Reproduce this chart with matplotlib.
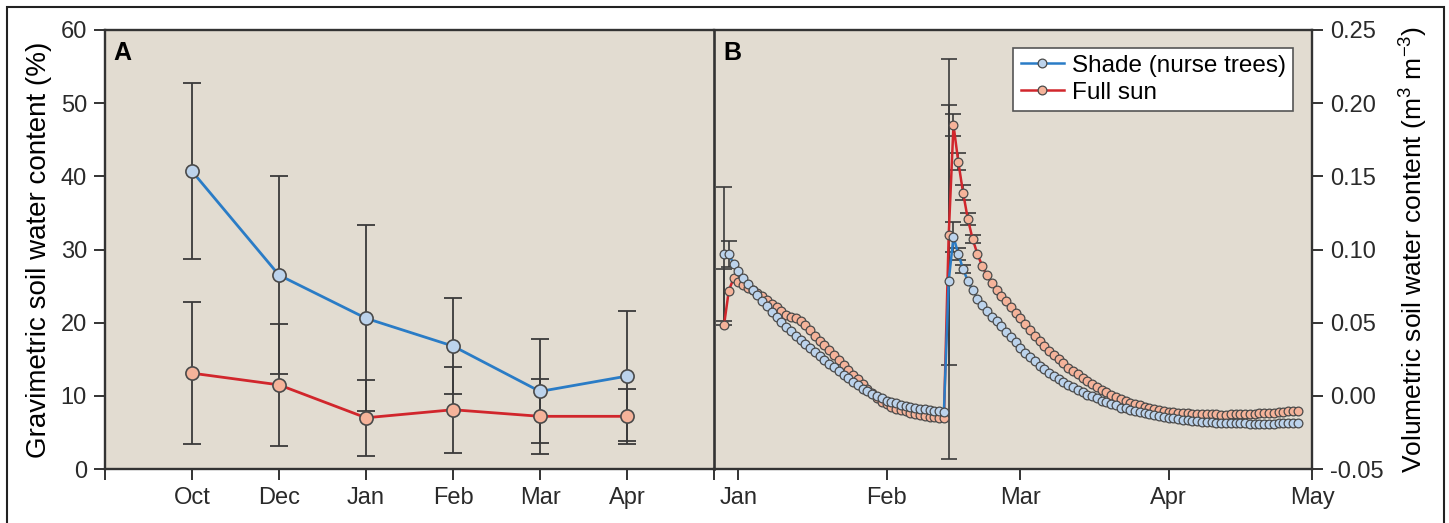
import matplotlib
matplotlib.use("Agg")
import matplotlib.pyplot as plt
from matplotlib.patches import Rectangle

plt.rcParams['font.family'] = ['Liberation Sans', 'DejaVu Sans']
plt.rcParams['mathtext.fontset'] = 'custom'
plt.rcParams['mathtext.rm'] = 'Liberation Sans'
plt.rcParams['axes.unicode_minus'] = False

# Panel A: gravimetric soil water content (%), monthly
months_a = ['Oct', 'Dec', 'Jan', 'Feb', 'Mar', 'Apr']
shade_a = [40.7, 26.5, 20.6, 16.8, 10.6, 12.7]
shade_a_err = [12.0, 13.5, 12.7, 6.6, 7.1, 8.9]
sun_a = [13.1, 11.5, 7.0, 8.1, 7.2, 7.2]
sun_a_err = [9.7, 8.3, 5.2, 5.9, 5.1, 3.8]

# Panel B: volumetric soil water content (m3 m-3), daily, day 0 = 1 Jan
days_b = list(range(-3, 118))
shade_b = [
    0.0970, 0.0970, 0.0901, 0.0853, 0.0806, 0.0765, 0.0724, 0.0686, 0.0648, 0.0611,
    0.0573, 0.0539, 0.0505, 0.0471, 0.0443, 0.0409, 0.0382, 0.0354, 0.0327, 0.0300,
    0.0272, 0.0245, 0.0218, 0.0194, 0.0170, 0.0143, 0.0122, 0.0095, 0.0071, 0.0050,
    0.0030, 0.0013, -0.0004, -0.0018, -0.0032, -0.0042, -0.0052, -0.0063, -0.0069, -0.0076,
    -0.0083, -0.0090, -0.0093, -0.0100, -0.0104, -0.0107, -0.0108, 0.0785, 0.1086, 0.0970,
    0.0867, 0.0785, 0.0724, 0.0665, 0.0621, 0.0580, 0.0539, 0.0512, 0.0477, 0.0436,
    0.0399, 0.0365, 0.0330, 0.0296, 0.0266, 0.0235, 0.0207, 0.0184, 0.0156, 0.0136,
    0.0115, 0.0095, 0.0074, 0.0057, 0.0040, 0.0026, 0.0009, -0.0004, -0.0018, -0.0032,
    -0.0045, -0.0056, -0.0066, -0.0080, -0.0086, -0.0097, -0.0104, -0.0110, -0.0117, -0.0124,
    -0.0131, -0.0138, -0.0145, -0.0149, -0.0154, -0.0158, -0.0162, -0.0167, -0.0171, -0.0174,
    -0.0176, -0.0179, -0.0181, -0.0183, -0.0185, -0.0186, -0.0187, -0.0188, -0.0189, -0.0189,
    -0.0190, -0.0190, -0.0190, -0.0190, -0.0190, -0.0190, -0.0189, -0.0189, -0.0188, -0.0187,
    -0.0186,
]
sun_b = [
    0.0484, 0.0719, 0.0803, 0.0778, 0.0758, 0.0737, 0.0720, 0.0703, 0.0682, 0.0655,
    0.0628, 0.0604, 0.0580, 0.0553, 0.0536, 0.0529, 0.0512, 0.0481, 0.0447, 0.0412,
    0.0378, 0.0344, 0.0310, 0.0276, 0.0245, 0.0211, 0.0177, 0.0142, 0.0112, 0.0078,
    0.0047, 0.0016, -0.0015, -0.0039, -0.0056, -0.0073, -0.0087, -0.0097, -0.0107, -0.0117,
    -0.0124, -0.0131, -0.0138, -0.0143, -0.0146, -0.0149, -0.0150, 0.1099, 0.1851, 0.1600,
    0.1389, 0.1209, 0.1072, 0.0970, 0.0888, 0.0823, 0.0771, 0.0724, 0.0682, 0.0645,
    0.0604, 0.0566, 0.0529, 0.0488, 0.0447, 0.0409, 0.0375, 0.0341, 0.0307, 0.0279,
    0.0250, 0.0221, 0.0192, 0.0169, 0.0146, 0.0122, 0.0098, 0.0080, 0.0057, 0.0041,
    0.0024, 0.0007, -0.0009, -0.0024, -0.0037, -0.0048, -0.0057, -0.0066, -0.0075, -0.0083,
    -0.0091, -0.0097, -0.0104, -0.0108, -0.0112, -0.0115, -0.0117, -0.0119, -0.0121, -0.0124,
    -0.0124, -0.0125, -0.0126, -0.0127, -0.0128, -0.0128, -0.0127, -0.0126, -0.0126, -0.0125,
    -0.0124, -0.0122, -0.0120, -0.0119, -0.0117, -0.0114, -0.0112, -0.0110, -0.0107, -0.0104,
    -0.0101,
]
# error bars shown only on some days (lower, upper)
shade_err_days = [-3, -2, 44, 45, 46, 47]
shade_err_lo = [0.046, 0.009, 0.1215, 0.010, 0.004, 0.003]
shade_err_hi = [0.046, 0.009, 0.1515, 0.010, 0.004, 0.003]
sun_err_days = [-3, 44, 45, 46, 47, 48, 49]
sun_err_lo = [0.0, 0.089, 0.0075, 0.006, 0.005, 0.004, 0.003]
sun_err_hi = [0.038, 0.089, 0.0075, 0.006, 0.005, 0.004, 0.003]

month_ticks_b = [0, 31, 59, 90, 120]
month_labels_b = ['Jan', 'Feb', 'Mar', 'Apr', 'May']

blue = '#2a7cc6'
red = '#d1262c'
blue_face = '#bcd3ec'
red_face = '#f5b39a'
edge = '#4a4a4a'
bg = '#e2dcd1'
dark = '#333333'

W, H = 1449, 523
fig = plt.figure(figsize=(W / 100, H / 100), dpi=100)
ax_a = fig.add_axes([105 / W, 1 - 469 / H, 609 / W, 439 / H])
ax_b = fig.add_axes([714 / W, 1 - 469 / H, 598 / W, 439 / H])

# ---- panel A
xa = list(range(1, len(months_a) + 1))
ax_a.errorbar(xa, shade_a, yerr=shade_a_err, fmt='none', ecolor='#3a3a3a',
              elinewidth=1.3, capsize=6.5, capthick=1.3, zorder=2)
ax_a.errorbar(xa, sun_a, yerr=sun_a_err, fmt='none', ecolor='#3a3a3a',
              elinewidth=1.3, capsize=6.5, capthick=1.3, zorder=2)
ax_a.plot(xa, shade_a, color=blue, lw=2, marker='o', ms=9.5,
          mfc=blue_face, mec=edge, mew=1.2, zorder=3)
ax_a.plot(xa, sun_a, color=red, lw=2, marker='o', ms=9.5,
          mfc=red_face, mec=edge, mew=1.2, zorder=3)
ax_a.set_xlim(0, 7)
ax_a.set_ylim(0, 60)
ax_a.set_xticks([0] + xa + [7])
ax_a.set_xticklabels([''] + months_a + [''])
ax_a.set_yticks(range(0, 61, 10))
ax_a.set_ylabel('Gravimetric soil water content (%)', fontsize=20, labelpad=6)
ax_a.text(0.013, 0.975, 'A', transform=ax_a.transAxes, fontsize=18,
          fontweight='bold', va='top', ha='left')

# ---- panel B
ax_b.errorbar(shade_err_days, [shade_b[days_b.index(d)] for d in shade_err_days],
              yerr=[shade_err_lo, shade_err_hi], fmt='none', ecolor='#3a3a3a',
              elinewidth=1.2, capsize=5.5, capthick=1.2, zorder=2)
ax_b.errorbar(sun_err_days, [sun_b[days_b.index(d)] for d in sun_err_days],
              yerr=[sun_err_lo, sun_err_hi], fmt='none', ecolor='#3a3a3a',
              elinewidth=1.2, capsize=5.5, capthick=1.2, zorder=2)
ax_b.plot(days_b, sun_b, color=red, lw=1.8, marker='o', ms=6.3,
          mfc=red_face, mec=edge, mew=0.9, zorder=3, label='Full sun')
ax_b.plot(days_b, shade_b, color=blue, lw=1.8, marker='o', ms=6.3,
          mfc=blue_face, mec=edge, mew=0.9, zorder=4, label='Shade (nurse trees)')
ax_b.set_xlim(-5.1, 120)
ax_b.set_ylim(-0.05, 0.25)
ax_b.set_xticks(month_ticks_b)
ax_b.set_xticklabels(month_labels_b)
ax_b.yaxis.tick_right()
ax_b.yaxis.set_label_position('right')
ax_b.set_yticks([-0.05, 0.0, 0.05, 0.10, 0.15, 0.20, 0.25])
ax_b.set_yticklabels(['%.2f' % v for v in [-0.05, 0.0, 0.05, 0.10, 0.15, 0.20, 0.25]])
ax_b.set_ylabel('Volumetric soil water content (m$^{3}$ m$^{-3}$)', fontsize=19,
                rotation=90, labelpad=9)
ax_b.text(0.016, 0.975, 'B', transform=ax_b.transAxes, fontsize=18,
          fontweight='bold', va='top', ha='left')
handles, labels = ax_b.get_legend_handles_labels()
leg = ax_b.legend(handles[::-1], labels[::-1], loc='upper right',
                  bbox_to_anchor=(0.968, 0.96), fontsize=17.5, frameon=True,
                  fancybox=False, edgecolor='#555555', framealpha=1,
                  handlelength=1.8, handletextpad=0.3, borderpad=0.3,
                  labelspacing=0.2, borderaxespad=0)
leg.get_frame().set_linewidth(1.2)

for ax in (ax_a, ax_b):
    ax.set_facecolor(bg)
    for s in ax.spines.values():
        s.set_color(dark)
        s.set_linewidth(1.7)
    ax.tick_params(direction='out', length=8, width=1.4, color=dark,
                   labelsize=17, labelcolor='#2a2a2a', pad=5)
ax_a.spines['right'].set_visible(False)
ax_b.spines['left'].set_linewidth(1.9)

# outer frame of the figure
fig.patches.append(Rectangle((7 / W, -0.05), (1444 - 7) / W, 1.05 - 7 / H,
                             transform=fig.transFigure, fill=False,
                             lw=1.5, ec='#222222'))

fig.savefig('out.png', dpi=100)
